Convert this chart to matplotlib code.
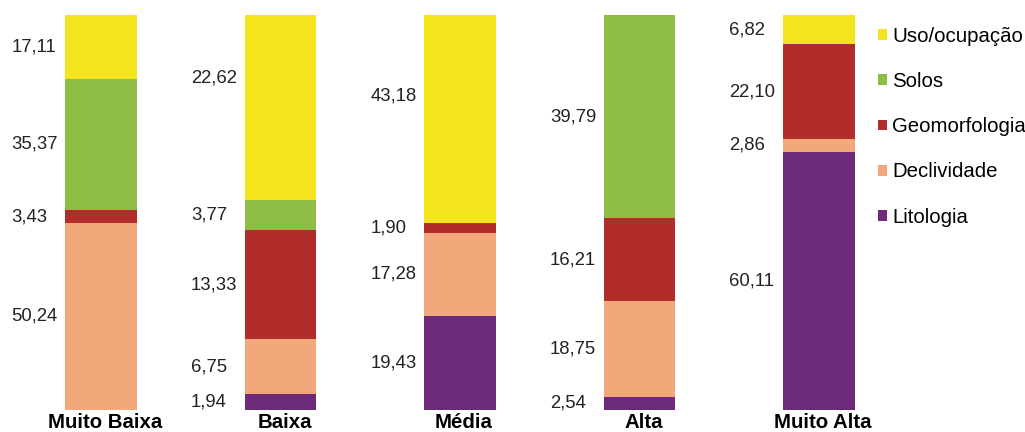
import numpy as np
import matplotlib.pyplot as plt
from matplotlib.patches import Patch
from matplotlib.transforms import ScaledTranslation

plt.rcParams['font.family'] = ['Liberation Sans', 'DejaVu Sans']

categories = ['Muito Baixa', 'Baixa', 'Média', 'Alta', 'Muito Alta']
series = ['Uso/ocupação', 'Solos', 'Geomorfologia', 'Declividade', 'Litologia']

# values per factor (top to bottom in each bar); 0 means the factor is absent
uso = [17.11, 22.62, 43.18, 0.0, 6.82]
solos = [35.37, 3.77, 0.0, 39.79, 0.0]
geomorfologia = [3.43, 13.33, 1.90, 16.21, 22.10]
declividade = [50.24, 6.75, 17.28, 18.75, 2.86]
litologia = [0.0, 1.94, 19.43, 2.54, 60.11]

colors = ['#f4e41d', '#8dbd45', '#b12d2b', '#f2a87b', '#6c2a79']


def fmt(v):
    return f'{v:.2f}'.replace('.', ',')


def main():
    data = np.array([uso, solos, geomorfologia, declividade, litologia])
    shares = data / data.sum(axis=0) * 100

    fig = plt.figure(figsize=(10.25, 4.32), dpi=100)
    ax = fig.add_axes([0.011, 0.051, 0.8756, 0.9144])
    x = np.arange(len(categories))
    width = 0.4

    # small vertical nudges for a few labels (in percent units)
    nudge = {(1, 0): 7.5, (2, 0): 6.0}

    top = np.full(len(categories), 100.0)
    for s in range(len(series)):
        bottom = top - shares[s]
        ax.bar(x, shares[s], width, bottom=bottom, color=colors[s], linewidth=0)
        for i in range(len(categories)):
            if data[s, i] > 0:
                y = bottom[i] + shares[s, i] / 2 + nudge.get((i, s), 0)
                ax.text(x[i] - width / 2 - 0.30, y, fmt(data[s, i]),
                        ha='left', va='center', fontsize=13.3, color='#222222')
        top = bottom

    ax.set_xlim(-0.5, 4.5)
    ax.set_ylim(0, 100)
    ax.set_xticks(x)
    ax.set_xticklabels(categories, fontsize=14.7, fontweight='bold')
    ax.tick_params(axis='x', length=0, pad=2)
    shift = ScaledTranslation(4 / 100, 0, fig.dpi_scale_trans)
    for lab in ax.get_xticklabels():
        lab.set_transform(lab.get_transform() + shift)
    ax.set_yticks([])
    for sp in ax.spines.values():
        sp.set_visible(False)

    handles = [Patch(facecolor=c, edgecolor='none') for c in colors]
    fig.legend(handles, series, loc='upper left', bbox_to_anchor=(0.8566, 0.9375),
               frameon=False, fontsize=14.7, handlelength=0.45, handleheight=0.45,
               handletextpad=0.25, labelspacing=1.28, borderaxespad=0,
               borderpad=0)

    fig.savefig('out.png', dpi=100)


if __name__ == "__main__":
    main()
